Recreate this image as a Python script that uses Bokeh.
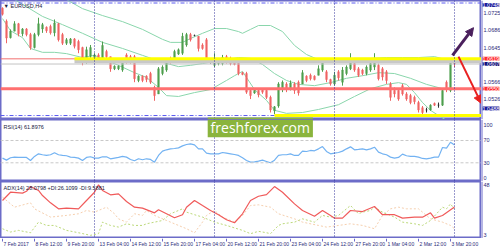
from bokeh.plotting import figure
from bokeh.layouts import column, row
from bokeh.models import (Range1d, Span, Label, Arrow, NormalHead,
                          BoxAnnotation, ColumnDataSource)
from bokeh.core.properties import value
from bokeh.embed import file_html
from bokeh.resources import INLINE

# ---------------- data (EURUSD H4) ----------------
bars = list(range(114))
opens = [1.0736, 1.0706, 1.0668, 1.0683, 1.0700, 1.0677, 1.0688, 1.0675, 1.0645, 1.0675,
         1.0688, 1.0692, 1.0694, 1.0679, 1.0700, 1.0675, 1.0655, 1.0655, 1.0665, 1.0659,
         1.0645, 1.0612, 1.0625, 1.0615, 1.0628, 1.0616, 1.0636, 1.0624, 1.0596, 1.0596,
         1.0593, 1.0628, 1.0624, 1.0624, 1.0569, 1.0579, 1.0579, 1.0585, 1.0553, 1.0538,
         1.0585, 1.0593, 1.0620, 1.0616, 1.0630, 1.0632, 1.0651, 1.0675, 1.0673, 1.0671,
         1.0651, 1.0663, 1.0613, 1.0604, 1.0608, 1.0608, 1.0624, 1.0620, 1.0614, 1.0612,
         1.0587, 1.0585, 1.0546, 1.0540, 1.0546, 1.0548, 1.0546, 1.0530, 1.0499, 1.0510,
         1.0548, 1.0561, 1.0550, 1.0561, 1.0565, 1.0561, 1.0579, 1.0581, 1.0579, 1.0581,
         1.0593, 1.0589, 1.0571, 1.0561, 1.0589, 1.0565, 1.0585, 1.0596, 1.0608, 1.0596,
         1.0593, 1.0585, 1.0593, 1.0600, 1.0604, 1.0596, 1.0589, 1.0561, 1.0546, 1.0546,
         1.0557, 1.0538, 1.0534, 1.0530, 1.0518, 1.0506, 1.0501, 1.0501, 1.0516, 1.0512,
         1.0512, 1.0565, 1.0546, 1.0612]
highs = [1.0738, 1.0710, 1.0687, 1.0706, 1.0702, 1.0690, 1.0690, 1.0679, 1.0679, 1.0714,
         1.0702, 1.0694, 1.0698, 1.0710, 1.0702, 1.0679, 1.0667, 1.0667, 1.0667, 1.0663,
         1.0647, 1.0647, 1.0651, 1.0632, 1.0632, 1.0659, 1.0640, 1.0624, 1.0604, 1.0604,
         1.0620, 1.0632, 1.0628, 1.0628, 1.0581, 1.0581, 1.0581, 1.0589, 1.0557, 1.0600,
         1.0604, 1.0612, 1.0624, 1.0640, 1.0643, 1.0679, 1.0679, 1.0679, 1.0675, 1.0671,
         1.0655, 1.0667, 1.0616, 1.0632, 1.0620, 1.0628, 1.0628, 1.0624, 1.0616, 1.0612,
         1.0589, 1.0589, 1.0550, 1.0550, 1.0550, 1.0550, 1.0550, 1.0534, 1.0510, 1.0565,
         1.0569, 1.0565, 1.0569, 1.0565, 1.0569, 1.0593, 1.0581, 1.0585, 1.0581, 1.0604,
         1.0616, 1.0593, 1.0573, 1.0589, 1.0593, 1.0600, 1.0604, 1.0632, 1.0612, 1.0600,
         1.0596, 1.0604, 1.0612, 1.0632, 1.0608, 1.0600, 1.0593, 1.0565, 1.0553, 1.0550,
         1.0561, 1.0542, 1.0538, 1.0534, 1.0522, 1.0510, 1.0506, 1.0514, 1.0518, 1.0518,
         1.0550, 1.0569, 1.0620, 1.0612]
lows = [1.0719, 1.0655, 1.0666, 1.0683, 1.0671, 1.0671, 1.0671, 1.0640, 1.0643, 1.0671,
        1.0679, 1.0679, 1.0675, 1.0671, 1.0659, 1.0651, 1.0651, 1.0651, 1.0643, 1.0632,
        1.0604, 1.0608, 1.0620, 1.0612, 1.0612, 1.0616, 1.0620, 1.0589, 1.0593, 1.0593,
        1.0589, 1.0608, 1.0608, 1.0565, 1.0565, 1.0565, 1.0565, 1.0561, 1.0522, 1.0538,
        1.0581, 1.0589, 1.0608, 1.0616, 1.0628, 1.0628, 1.0647, 1.0659, 1.0671, 1.0636,
        1.0640, 1.0612, 1.0608, 1.0600, 1.0604, 1.0604, 1.0608, 1.0604, 1.0604, 1.0581,
        1.0581, 1.0538, 1.0526, 1.0538, 1.0530, 1.0538, 1.0526, 1.0495, 1.0491, 1.0506,
        1.0542, 1.0542, 1.0546, 1.0538, 1.0534, 1.0561, 1.0565, 1.0569, 1.0569, 1.0581,
        1.0589, 1.0565, 1.0557, 1.0557, 1.0569, 1.0557, 1.0581, 1.0593, 1.0589, 1.0577,
        1.0581, 1.0581, 1.0589, 1.0593, 1.0569, 1.0569, 1.0561, 1.0522, 1.0530, 1.0522,
        1.0534, 1.0522, 1.0514, 1.0514, 1.0495, 1.0487, 1.0495, 1.0499, 1.0510, 1.0506,
        1.0510, 1.0542, 1.0542, 1.0600]
closes = [1.0722, 1.0667, 1.0683, 1.0700, 1.0677, 1.0688, 1.0675, 1.0645, 1.0675, 1.0700,
          1.0698, 1.0684, 1.0679, 1.0702, 1.0663, 1.0655, 1.0663, 1.0665, 1.0648, 1.0640,
          1.0612, 1.0640, 1.0645, 1.0628, 1.0616, 1.0650, 1.0624, 1.0596, 1.0602, 1.0602,
          1.0616, 1.0612, 1.0612, 1.0573, 1.0579, 1.0569, 1.0571, 1.0565, 1.0534, 1.0596,
          1.0600, 1.0608, 1.0612, 1.0636, 1.0640, 1.0671, 1.0675, 1.0663, 1.0673, 1.0643,
          1.0643, 1.0618, 1.0613, 1.0616, 1.0616, 1.0622, 1.0612, 1.0608, 1.0606, 1.0585,
          1.0583, 1.0542, 1.0534, 1.0546, 1.0536, 1.0542, 1.0530, 1.0501, 1.0508, 1.0561,
          1.0565, 1.0548, 1.0563, 1.0546, 1.0540, 1.0587, 1.0569, 1.0573, 1.0571, 1.0596,
          1.0610, 1.0571, 1.0561, 1.0581, 1.0575, 1.0593, 1.0600, 1.0616, 1.0593, 1.0581,
          1.0585, 1.0600, 1.0608, 1.0620, 1.0573, 1.0577, 1.0569, 1.0530, 1.0538, 1.0526,
          1.0538, 1.0526, 1.0518, 1.0520, 1.0501, 1.0495, 1.0501, 1.0512, 1.0512, 1.0512,
          1.0546, 1.0550, 1.0614, 1.0607]

# Bollinger bands (read at sample bars)
bb_up_bars = [16, 20, 25, 30, 35, 40, 42, 45, 47, 50, 53, 56, 59, 60, 62, 64, 67, 70, 73, 76,
              80, 84, 88, 92, 96, 100, 104, 108, 111, 113]
bb_up_vals = [1.0756, 1.0735, 1.0719, 1.0705, 1.0687, 1.0664, 1.0657, 1.0657, 1.0666, 1.0678,
              1.0689, 1.0689, 1.0682, 1.0678, 1.0687, 1.0696, 1.0696, 1.0682, 1.0650, 1.0629,
              1.0613, 1.0615, 1.0620, 1.0620, 1.0622, 1.0622, 1.0622, 1.0624, 1.0617, 1.0611]
bb_mid_bars = [3, 5, 10, 15, 20, 25, 30, 35, 40, 44, 47, 50, 53, 56, 59, 62, 65, 68, 71, 74,
               78, 82, 86, 90, 94, 98, 102, 106, 110, 113]
bb_mid_vals = [1.0756, 1.0745, 1.0717, 1.0698, 1.0678, 1.0657, 1.0643, 1.0627, 1.0611, 1.0601,
               1.0604, 1.0608, 1.0613, 1.0617, 1.0622, 1.0620, 1.0606, 1.0585, 1.0569, 1.0560,
               1.0557, 1.0564, 1.0574, 1.0580, 1.0587, 1.0585, 1.0574, 1.0560, 1.0550, 1.0548]
bb_low_bars = [0, 2, 5, 7, 10, 13, 16, 20, 23, 26, 29, 33, 36, 39, 41, 44, 48, 52, 56, 58,
               60, 61, 63, 66, 68, 71, 75, 79, 84, 88, 92, 96, 99, 101, 103, 105, 107, 109, 111, 113]
bb_low_vals = [1.0712, 1.0684, 1.0668, 1.0643, 1.0634, 1.0634, 1.0631, 1.0622, 1.0627, 1.0615,
               1.0604, 1.0587, 1.0576, 1.0553, 1.0534, 1.0532, 1.0541, 1.0548, 1.0569, 1.0580,
               1.0590, 1.0576, 1.0548, 1.0523, 1.0500, 1.0493, 1.0495, 1.0502, 1.0513, 1.0532,
               1.0550, 1.0560, 1.0564, 1.0560, 1.0541, 1.0518, 1.0500, 1.0488, 1.0477, 1.0467]

rsi = [38.4, 34.8, 39.0, 40.2, 39.6, 39.6, 39.6, 34.2, 41.4, 46.1,
       44.4, 43.2, 44.4, 47.9, 44.4, 43.2, 42.6, 40.2, 39.6, 38.4,
       34.2, 39.6, 40.8, 38.4, 38.4, 40.8, 40.8, 37.2, 38.4, 39.6,
       41.4, 40.2, 36.0, 33.6, 37.2, 35.4, 37.2, 36.0, 31.2, 43.2,
       50.9, 53.3, 55.0, 55.6, 56.8, 60.4, 62.8, 64.0, 62.2, 55.0,
       55.0, 47.3, 46.1, 46.1, 46.1, 48.5, 47.3, 46.1, 44.9, 43.2,
       39.0, 34.2, 31.2, 31.8, 33.0, 34.8, 32.4, 30.0, 34.8, 43.2,
       44.4, 44.4, 46.1, 43.2, 43.2, 50.9, 50.3, 52.1, 51.5, 55.0,
       59.2, 50.3, 46.1, 47.3, 48.5, 50.9, 55.0, 58.6, 53.3, 53.9,
       55.0, 53.3, 55.0, 58.0, 49.1, 46.1, 44.4, 40.2, 38.4, 39.6,
       45.5, 42.6, 41.4, 41.4, 40.2, 37.8, 37.2, 38.4, 40.2, 40.2,
       57.4, 56.2, 66.9, 61.9]

adx_bars = [0, 2, 5, 6, 7, 9, 10, 12, 14, 16, 19, 21, 23, 24, 25, 27, 29, 31, 33, 35,
            38, 39, 41, 43, 45, 46, 48, 50, 52, 54, 56, 58, 60, 62, 64, 66, 68, 70, 73, 75,
            78, 80, 82, 83, 85, 87, 90, 93, 95, 98, 100, 103, 105, 107, 108, 110, 113]
adx_vals = [33.6, 40.6, 39.8, 41.4, 45.4, 42.1, 37.8, 31.6, 26.5, 27.1, 26.5, 33.6, 40.6, 46.9,
            42.1, 38.4, 39.2, 32.7, 27.9, 27.1, 23.1, 25.7, 22.3, 18.9, 21.5, 27.9, 33.6, 29.3,
            25.1, 21.5, 17.2, 14.7, 22.3, 33.6, 37.2, 38.6, 45.4, 40.6, 30.7, 25.1, 20.2, 25.1,
            20.8, 18.6, 18.6, 25.1, 24.2, 28.5, 21.5, 21.5, 18.6, 19.4, 19.4, 23.1, 18.6, 20.8,
            28.08]
pdi_bars = [0, 2, 4, 7, 9, 11, 13, 16, 19, 22, 24, 25, 27, 29, 31, 33, 35, 36, 38, 40,
            42, 45, 46, 48, 50, 53, 56, 60, 62, 64, 66, 67, 69, 70, 73, 75, 78, 80, 82, 84,
            85, 87, 89, 90, 92, 93, 95, 98, 100, 103, 105, 107, 110, 111, 112, 113]
pdi_vals = [9.6, 6.8, 8.2, 6.2, 15.2, 12.4, 12.4, 8.2, 6.2, 4.0, 5.4, 15.2, 12.4, 11.0, 13.8,
            12.4, 12.4, 13.8, 15.2, 16.6, 22.3, 26.5, 23.7, 21.5, 19.5, 15.2, 12.4, 8.2, 5.4,
            7.4, 6.2, 5.4, 12.4, 13.8, 15.2, 18.0, 15.2, 20.9, 19.5, 20.9, 23.7, 29.3, 22.3,
            23.7, 25.1, 27.9, 23.7, 19.5, 15.2, 13.8, 12.4, 16.6, 27.9, 26.5, 30.7, 26.11]
mdi_bars = [0, 3, 7, 8, 12, 16, 19, 21, 23, 24, 26, 28, 29, 31, 33, 35, 36, 38, 41, 44,
            46, 48, 50, 51, 53, 55, 58, 60, 62, 64, 67, 69, 73, 75, 79, 81, 84, 87, 90, 93,
            95, 97, 99, 101, 104, 105, 107, 110, 112, 113]
mdi_vals = [36.4, 27.9, 31.6, 26.5, 19.5, 20.9, 22.3, 25.1, 23.7, 25.1, 27.9, 22.3, 18.0, 15.2,
            22.3, 20.9, 25.1, 20.9, 16.6, 12.4, 9.6, 6.2, 15.2, 20.9, 25.1, 19.5, 15.2, 20.9,
            29.3, 29.9, 27.9, 22.3, 18.0, 15.2, 12.4, 11.0, 12.4, 13.8, 12.4, 9.6, 20.9, 26.5,
            27.9, 26.5, 26.5, 23.7, 18.0, 15.2, 12.4, 9.59]

# levels / drawings
range_high = 1.0748
resistance = 1.0619
bid = 1.0607
support_mid = 1.0550
support_low = 1.0488
resistance_from_bar = 18
support_low_from_bar = 68
arrow_up_bars = [112.5, 117.75]
arrow_up_prices = [1.0627, 1.0691]
arrow_down_bars = [114.0, 119.7]
arrow_down_prices = [1.0624, 1.0516]

price_ticks = [1.0725, 1.0686, 1.0645, 1.0566, 1.0526]
box_levels = [range_high, resistance, bid, support_mid, support_low]
box_colors = ["#1c1c9a", "#ff2a2a", "#10107a", "#ff2a2a", "#1c1c9a"]
rsi_ticks = [0, 30, 70, 100]
adx_ticks = [3, 48]
week_starts = [23, 53, 83, 113]
x_tick_bars = [0, 8, 16, 24, 32, 40, 48, 56, 64, 72, 80, 88, 96, 104, 112]
x_tick_labels = ["7 Feb 2017", "8 Feb 12:00", "9 Feb 20:00", "13 Feb 04:00", "14 Feb 12:00",
                 "15 Feb 20:00", "17 Feb 04:00", "20 Feb 12:00", "21 Feb 20:00", "23 Feb 04:00",
                 "24 Feb 12:00", "27 Feb 20:00", "1 Mar 04:00", "2 Mar 12:00", "3 Mar 20:00"]

# ---------------- style ----------------
FONT = "Liberation Sans"
BORDER = "#6c6cc8"
AXIS_TXT = "#2b2b7a"
UP, DOWN, DOJI = "#4f9f4f", "#f06464", "#303030"
BAND = "#8ad6ac"
FS = "5.5px"

X0, X1 = -0.5, 119.75
xr = Range1d(X0, X1)
yr_main = Range1d(1.04788, 1.07538)
yr_rsi = Range1d(-3.5, 107.6)
yr_adx = Range1d(1.31, 49.7)


def base(fw, fh, x_range, y_range, outline=None):
    p = figure(frame_width=fw, frame_height=fh, x_range=x_range, y_range=y_range,
               y_axis_location=None, x_axis_location=None,
               output_backend="svg", toolbar_location=None,
               min_border=0, min_border_left=0, min_border_top=0, min_border_right=0,
               min_border_bottom=0,
               background_fill_color="white", border_fill_color="white",
               outline_line_color=outline, outline_line_width=2)
    p.xgrid.visible = False
    p.ygrid.visible = False
    return p


def panel(frame_h, yr):
    p = base(481, frame_h, xr, yr, outline=BORDER)
    for b in week_starts:
        p.add_layout(Span(location=b, dimension="height", line_color="#34349c",
                          line_dash="1 2", line_width=1))
    return p


def side(frame_h, yr, ticks, tick_text, offsets):
    s = base(19, frame_h, Range1d(0, 19), yr)
    s.add_layout(Span(location=0, dimension="height", line_color=BORDER, line_width=2))
    s.text(x=[2] * len(ticks), y=ticks, text=tick_text, y_offset=offsets,
           text_font=value(FONT), text_font_size=FS, text_color=AXIS_TXT,
           text_baseline="middle", text_align="left")
    return s


# ---------------- main panel ----------------
p1 = panel(119, yr_main)
p1.line(bb_up_bars, bb_up_vals, line_color=BAND, line_width=1)
p1.line(bb_mid_bars, bb_mid_vals, line_color=BAND, line_width=1)
p1.line(bb_low_bars, bb_low_vals, line_color=BAND, line_width=1)

colors = [UP if c > o else (DOWN if c < o else DOJI) for o, c in zip(opens, closes)]
src = ColumnDataSource(dict(x=bars, o=opens, h=highs, l=lows, c=closes,
                            top=[max(o, c) for o, c in zip(opens, closes)],
                            bottom=[min(o, c) for o, c in zip(opens, closes)],
                            color=colors))
p1.segment(x0="x", y0="l", x1="x", y1="h", line_color="color", line_width=1, source=src)
p1.vbar(x="x", width=0.4, top="top", bottom="bottom", fill_color="color",
        line_color="color", line_width=0.5, source=src)

# horizontal levels (glyphs, drawn in MT4 object order)
p1.segment(x0=[X0], y0=[bid], x1=[X1], y1=[bid], line_color="#c4c4c4", line_width=1)
p1.segment(x0=[X0], y0=[resistance], x1=[X1], y1=[resistance], line_color="#f27070",
           line_width=1)
p1.segment(x0=[X0], y0=[support_mid], x1=[X1], y1=[support_mid], line_color="#ff7070",
           line_width=3)
p1.segment(x0=[X0, X0], y0=[range_high, support_low], x1=[X1, X1],
           y1=[range_high, support_low], line_color="#5a5af0", line_width=1,
           line_dash="4 2 1 2")
p1.quad(left=[resistance_from_bar], right=[X1], top=[resistance], bottom=[bid + 0.0002],
        fill_color="#c8c8c8", line_color=None)
p1.segment(x0=[resistance_from_bar], y0=[resistance], x1=[X1], y1=[resistance],
           line_color="#ffff00", line_width=3)
p1.segment(x0=[support_low_from_bar], y0=[support_low], x1=[X1], y1=[support_low],
           line_color="#ffff00", line_width=3)

# arrows
p1.add_layout(Arrow(end=NormalHead(size=8, fill_color="#4a1f5c", line_color="#4a1f5c"),
                    x_start=arrow_up_bars[0], y_start=arrow_up_prices[0],
                    x_end=arrow_up_bars[1], y_end=arrow_up_prices[1],
                    line_color="#4a1f5c", line_width=3))
p1.add_layout(Arrow(end=NormalHead(size=8, fill_color="#e82020", line_color="#e82020"),
                    x_start=arrow_down_bars[0], y_start=arrow_down_prices[0],
                    x_end=arrow_down_bars[1], y_end=arrow_down_prices[1],
                    line_color="#e82020", line_width=2))

p1.add_layout(Label(x=X0, y=yr_main.end, x_offset=3, y_offset=-2, text="\u25bc EURUSD,H4",
                    text_font=FONT, text_font_size=FS, text_color="#202040",
                    text_baseline="top"))
p1.add_layout(BoxAnnotation(left=51.3, right=77.6, top=1.04834, fill_color="#8ab43c",
                            fill_alpha=1, line_color=None))

s1 = side(119, yr_main, price_ticks, [f"{v:.4f}" for v in price_ticks], [0] * len(price_ticks))
box_src = ColumnDataSource(dict(x=[1] * len(box_levels), y=box_levels,
                                text=[f"{v:.4f}" for v in box_levels], bg=box_colors,
                                yoff=[2, 0, 0, 0, -7]))
s1.text(x="x", y="y", text="text", y_offset="yoff", background_fill_color="bg",
        text_font=value(FONT), text_font_size=FS, text_color="white",
        text_baseline="middle", text_align="left", source=box_src)

# ---------------- RSI panel ----------------
p2 = panel(62, yr_rsi)
for lv in (30, 70):
    p2.add_layout(Span(location=lv, dimension="width", line_color="#c8c8c8",
                       line_dash="3 2", line_width=1))
p2.line(bars, rsi, line_color="#72b2f2", line_width=1.2)
p2.add_layout(Label(x=X0, y=yr_rsi.end, x_offset=3, y_offset=-4, text="RSI(14) 61.8976",
                    text_font=FONT, text_font_size=FS, text_color="#202040",
                    text_baseline="top"))
p2.add_layout(BoxAnnotation(left=51.3, right=77.6, bottom=75.9, fill_color="#8ab43c",
                            fill_alpha=1, line_color=None))
p2.add_layout(Label(x=64.45, y=93.0, text="freshforex.com", text_font="Open Sans",
                    text_font_size="14px", text_color="white", text_align="center",
                    text_baseline="middle"))
s2 = side(62, yr_rsi, rsi_ticks, [str(v) for v in rsi_ticks], [-2, 0, 0, 1])

# ---------------- ADX panel ----------------
p3 = panel(57, yr_adx)
p3.line(mdi_bars, mdi_vals, line_color="#f6cfae", line_width=1, line_dash="2 2")
p3.line(pdi_bars, pdi_vals, line_color="#bcd97a", line_width=1, line_dash="2 2")
p3.line(adx_bars, adx_vals, line_color="#f05a5a", line_width=1.2)
p3.add_layout(Label(x=X0, y=yr_adx.end, x_offset=3, y_offset=-3,
                    text="ADX(14) 28.0798 +DI:26.1099 -DI:9.5881",
                    text_font=FONT, text_font_size=FS, text_color="#202040",
                    text_baseline="top"))
s3 = side(57, yr_adx, adx_ticks, [str(v) for v in adx_ticks], [-2, 1])

# ---------------- time axis strip ----------------
strip = base(500, 12, Range1d(X0, X0 + 125), Range1d(0, 12))
n = len(x_tick_bars)
strip.segment(x0=x_tick_bars, y0=[12] * n, x1=x_tick_bars, y1=[9] * n,
              line_color=BORDER, line_width=1)
strip.text(x=x_tick_bars, y=[6.5] * n, text=x_tick_labels, x_offset=1,
           text_font=value(FONT), text_font_size="5px", text_color=AXIS_TXT,
           text_baseline="middle", text_align="left")

layout = column(row(p1, s1, spacing=0), row(p2, s2, spacing=0), row(p3, s3, spacing=0),
                strip, spacing=0)
open("out.html", "w").write(file_html(layout, INLINE, "EURUSD H4"))
